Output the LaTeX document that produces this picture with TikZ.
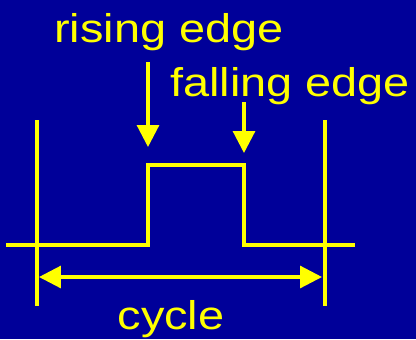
\documentclass[tikz,border=0pt]{standalone}
\usepackage{fontspec}
\setmainfont{Liberation Sans}
\usetikzlibrary{arrows.meta}
\definecolor{slide}{HTML}{000099}
\definecolor{signal}{HTML}{FFFF00}
\newcommand\widen[1]{\scalebox{1.17}[1]{#1}}

\begin{document}
\begin{tikzpicture}[
  x=0.02cm,y=-0.02cm,
  tag/.style={text=signal,font=\fontsize{22.8}{27}\selectfont,inner sep=0pt,anchor=base},
  wave/.style={draw=signal,line width=1.8pt,line join=miter},
  bar/.style={draw=signal,line width=2.8pt},
  pointer/.style={draw=signal,line width=1.8pt,-{Triangle[length=0.44cm,width=0.44cm]}},
  span/.style={draw=signal,line width=1.8pt,{Triangle[length=0.44cm,width=0.44cm]}-{Triangle[length=0.44cm,width=0.44cm]}}
]
\fill[slide] (0,0) rectangle (416,339);
\useasboundingbox (0,0) rectangle (416,339);
% the labels
\node[tag] (rising) at (169,42) {\widen{rising edge}};
\node[tag] (falling) at (290,96) {\widen{falling edge}};
\node[tag] (cycle) at (171,329) {\widen{cycle}};
% the signal
\coordinate (lo) at (6,245);
\coordinate (up) at (148,165);
\coordinate (down) at (244,245);
\coordinate (hi) at (355,245);
\draw[wave] (lo) -- (lo -| up) -- (up) -- (up -| down) -- (down) -- (hi);
% the cycle bounds
\coordinate (l1) at (37,120);
\coordinate (l2) at (37,306);
\coordinate (r1) at (325,120);
\coordinate (r2) at (325,306);
\draw[bar] (l1) -- (l2);
\draw[bar] (r1) -- (r2);
\coordinate (sa) at (39,277);
\coordinate (sb) at (322,277);
\draw[span] (sa) -- (sb);
% the pointers
\coordinate (ra) at (148,62);
\coordinate (rb) at (148,147);
\coordinate (fa) at (244,102);
\coordinate (fb) at (244,153);
\draw[pointer] (ra) -- (rb);
\draw[pointer] (fa) -- (fb);
\end{tikzpicture}
\end{document}
